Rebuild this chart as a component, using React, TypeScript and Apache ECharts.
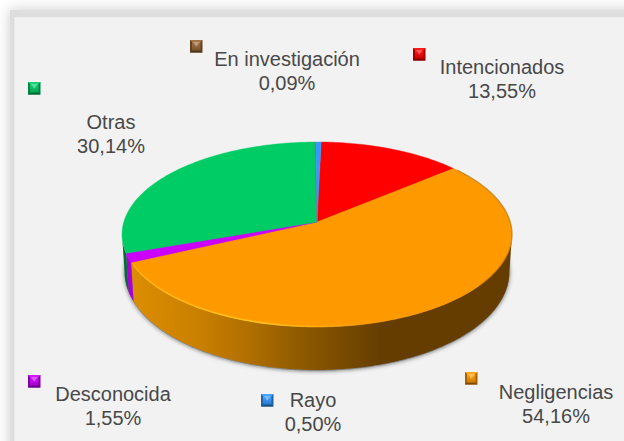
import React, { useEffect, useRef } from "react";
import * as echarts from "echarts";

const names = ["Intencionados", "Negligencias", "Desconocida", "Otras", "En investigación", "Rayo"];
const shares = [13.55, 54.16, 1.55, 30.14, 0.09, 0.5];
const shareLabels = ["13,55%", "54,16%", "1,55%", "30,14%", "0,09%", "0,50%"];
const sliceColors = ["#ff0000", "#ff9900", "#cc00ff", "#00cc66", "#996633", "#3399ff"];
const wallColors = ["#990000", "#663d00", "#aa00d6", "#00693a", "#5c3d1f", "#1f5c99"];

// layout: label centre x, first line centre y, marker x, marker y (same order as names)
const labelLayout = [
  [502, 67, 413, 48],
  [556, 392, 465, 372],
  [113, 394, 28, 375],
  [111, 122, 28, 82],
  [287, 59, 190, 40],
  [313, 400, 261, 394],
];

const CX = 317;
const CY = 222;
const A = 193.2;
const B = 90.8;
const K = 0.135;
const START = 1.4;
const TANGENT_R = (Math.acos(-K) * 180) / Math.PI;
const TANGENT_L = 360 - TANGENT_R;

function top(phi: number): [number, number] {
  const r = (phi * Math.PI) / 180;
  const u = Math.sin(r);
  const v = -Math.cos(r);
  const w = 1 - K * v;
  return [CX + (A * u) / w, CY + (B * v) / w];
}
function bottom(phi: number): [number, number] {
  const r = (phi * Math.PI) / 180;
  const v = -Math.cos(r);
  const p = top(phi);
  return [CX + (p[0] - CX) * 0.987, p[1] + 36 + 7 * v];
}
function arc(a: number, b: number, f: (p: number) => [number, number]) {
  const n = Math.max(2, Math.ceil(Math.abs(b - a)));
  const pts: [number, number][] = [];
  for (let i = 0; i <= n; i++) pts.push(f(a + ((b - a) * i) / n));
  return pts;
}
const total = shares.reduce((s, v) => s + v, 0);
function span(i: number): [number, number] {
  let s = 0;
  for (let j = 0; j < i; j++) s += shares[j];
  const a = START + (s / total) * 360;
  return [a, a + (shares[i] / total) * 360];
}
function mix(hex: string, target: number, t: number) {
  const n = parseInt(hex.slice(1), 16);
  const c = [(n >> 16) & 255, (n >> 8) & 255, n & 255].map((x) => Math.round(x + (target - x) * t));
  return `rgb(${c[0]},${c[1]},${c[2]})`;
}
const orangeWall = () =>
  new echarts.graphic.LinearGradient(0, 0, 1, 0, [
    { offset: 0, color: "#dc8d00" },
    { offset: 0.18, color: "#c97f00" },
    { offset: 0.31, color: "#b06f00" },
    { offset: 0.44, color: "#8f5a00" },
    { offset: 0.55, color: "#7a4c00" },
    { offset: 0.655, color: "#663d00" },
    { offset: 1, color: "#663d00" },
  ]);

function marker(i: number) {
  const [, , x, y] = labelLayout[i];
  const c = sliceColors[i];
  const s = 12.5;
  return {
    type: "group",
    silent: true,
    children: [
      { type: "rect", shape: { x, y, width: s, height: s }, style: { fill: mix(c, 0, 0.35) } },
      { type: "polygon", shape: { points: [[x, y], [x + s, y], [x + s - 2, y + 2], [x + 2, y + 2]] }, style: { fill: mix(c, 255, 0.1) } },
      { type: "polygon", shape: { points: [[x, y + s], [x + s, y + s], [x + s - 2, y + s - 2], [x + 2, y + s - 2]] }, style: { fill: mix(c, 0, 0.5) } },
      {
        type: "rect",
        shape: { x: x + 2, y: y + 2, width: s - 4, height: s - 4 },
        style: {
          fill: new echarts.graphic.LinearGradient(0, 0, 0, 1, [
            { offset: 0, color: mix(c, 255, 0.1) },
            { offset: 1, color: mix(c, 0, 0.2) },
          ]),
        },
      },
      { type: "polygon", shape: { points: [[x + 3, y + 2], [x + s - 3, y + 2], [x + s / 2, y + s / 2 + 0.5]] }, style: { fill: mix(c, 255, 0.35) } },
    ],
  };
}
function label(i: number) {
  const [x, y] = labelLayout[i];
  const common = { fontFamily: "Liberation Sans", fontSize: 20, fill: "#484848", textAlign: "center", textVerticalAlign: "middle" };
  return [
    { type: "text", x, y, silent: true, style: { ...common, text: names[i] } },
    { type: "text", x, y: y + 24, silent: true, style: { ...common, text: shareLabels[i] } },
  ];
}

export default function App() {
  const ref = useRef<HTMLDivElement>(null);
  useEffect(() => {
    const chart = echarts.init(ref.current!, undefined, { renderer: "svg" });
    const data = shares.map((v, i) => ({ name: names[i], value: v }));
    chart.setOption({
      animation: false,
      backgroundColor: "#ffffff",
      graphic: [
        {
          type: "rect",
          silent: true,
          z: -11,
          shape: { x: 10, y: 10, width: 700, height: 500 },
          style: { fill: "#dedede", shadowBlur: 14, shadowColor: "rgba(0,0,0,0.2)" },
        },
        {
          type: "rect",
          silent: true,
          z: -10,
          shape: { x: 14.5, y: 17.3, width: 700, height: 500 },
          style: { fill: "#f2f2f2" },
        },
        ...names.map((_, i) => marker(i)),
        ...names.flatMap((_, i) => label(i)),
      ],
      series: [
        {
          type: "custom",
          name: "base",
          coordinateSystem: "none",
          silent: true,
          z: 2,
          data: [total],
          renderItem: () => ({
            type: "polygon",
            shape: { points: arc(0, 360, bottom).map((p) => [p[0], p[1] + 1]) },
            style: { fill: "#8a8a8a", shadowBlur: 4, shadowColor: "rgba(0,0,0,0.55)" },
          }),
        },
        {
          type: "custom",
          name: "walls",
          coordinateSystem: "none",
          silent: true,
          z: 3,
          data,
          renderItem: (params: any) => {
            const i = params.dataIndex;
            const [a0, b0] = span(i);
            const a = Math.max(a0, TANGENT_R);
            const b = Math.min(b0, TANGENT_L);
            if (b <= a) return { type: "group", children: [] };
            const pts = [...arc(a, b, top), ...arc(b, a, bottom)];
            return {
              type: "polygon",
              shape: { points: pts },
              style: { fill: names[i] === "Negligencias" ? orangeWall() : wallColors[i] },
            };
          },
        },
        {
          type: "custom",
          name: "top",
          coordinateSystem: "none",
          silent: true,
          z: 4,
          data,
          renderItem: (params: any) => {
            const i = params.dataIndex;
            const [a, b] = span(i);
            const pts = [[CX, CY], ...arc(a, b, top)];
            return {
              type: "polygon",
              shape: { points: pts },
              style: { fill: sliceColors[i], stroke: sliceColors[i], lineWidth: 0.4 },
            };
          },
        },
        {
          type: "custom",
          name: "rim",
          coordinateSystem: "none",
          silent: true,
          z: 5,
          data: [total],
          renderItem: () => ({
            type: "group",
            children: [
              {
                type: "polyline",
                shape: { points: arc(165, 243, top).map((p) => [p[0], p[1] - 0.5]) },
                style: {
                  fill: "none",
                  lineWidth: 1.6,
                  stroke: new echarts.graphic.LinearGradient(0, 0, 1, 0, [
                    { offset: 0, color: "rgba(255,190,30,0.6)" },
                    { offset: 0.5, color: "rgba(255,195,30,1)" },
                    { offset: 1, color: "rgba(255,190,30,0)" },
                  ]),
                },
              },
              {
                type: "polyline",
                shape: { points: arc(52, 130, top) },
                style: { fill: "none", lineWidth: 1.4, stroke: "rgba(150,95,0,0.45)" },
              },
            ],
          }),
        },
      ],
    });
    return () => chart.dispose();
  }, []);
  return <div ref={ref} style={{ position: "fixed", left: 0, top: 0, width: 624, height: 441 }} />;
}
